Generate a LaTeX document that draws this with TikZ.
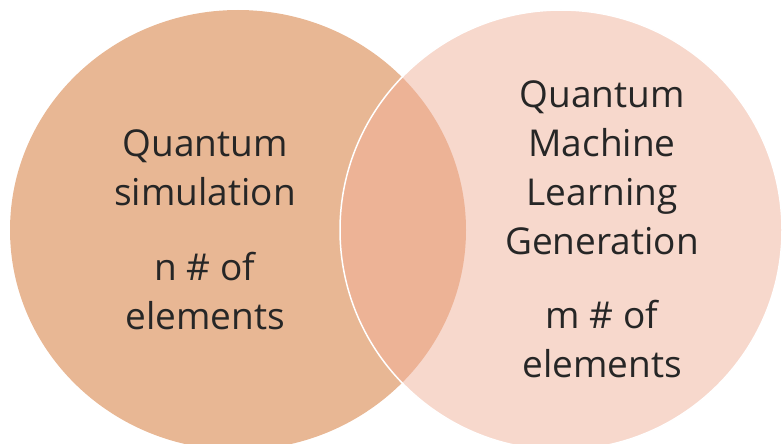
\documentclass[tikz,border=0pt]{standalone}
\usepackage{fontspec}
\setmainfont{Open Sans}
\usepackage{tikz}

\definecolor{simcol}{RGB}{232,183,148}
\definecolor{qmlcol}{RGB}{247,216,204}
\definecolor{bothcol}{RGB}{237,179,150}

\tikzset{
	label text/.style={align=center, text=black!85, font=\fontsize{37}{49}\selectfont},
}

\begin{document}
\begin{tikzpicture}[x=1pt, y=-1pt]
	\useasboundingbox (0, 0) rectangle (782, 444);
	\clip (0, 0) rectangle (782, 444);

	\fill[simcol] (238, 230) ellipse [x radius=228, y radius=220];
	\fill[qmlcol] (561, 230) ellipse [x radius=221, y radius=220];
	\begin{scope}
		\clip (238, 230) ellipse [x radius=228, y radius=220];
		\fill[bothcol] (561, 230) ellipse [x radius=221, y radius=220];
	\end{scope}
	\draw[white, line width=1.5pt] (561, 230) ellipse [x radius=221, y radius=220];

	\node[label text] (simname) at (205, 168)     {Quantum\\simulation};
	\node[label text] (simsize) at (205, 291)     {n \# of\\elements};
	\node[label text] (qmlname) at (602, 168)     {Quantum\\Machine\\Learning\\Generation};
	\node[label text] (qmlsize) at (602, 339)     {m \# of\\elements};
\end{tikzpicture}
\end{document}
